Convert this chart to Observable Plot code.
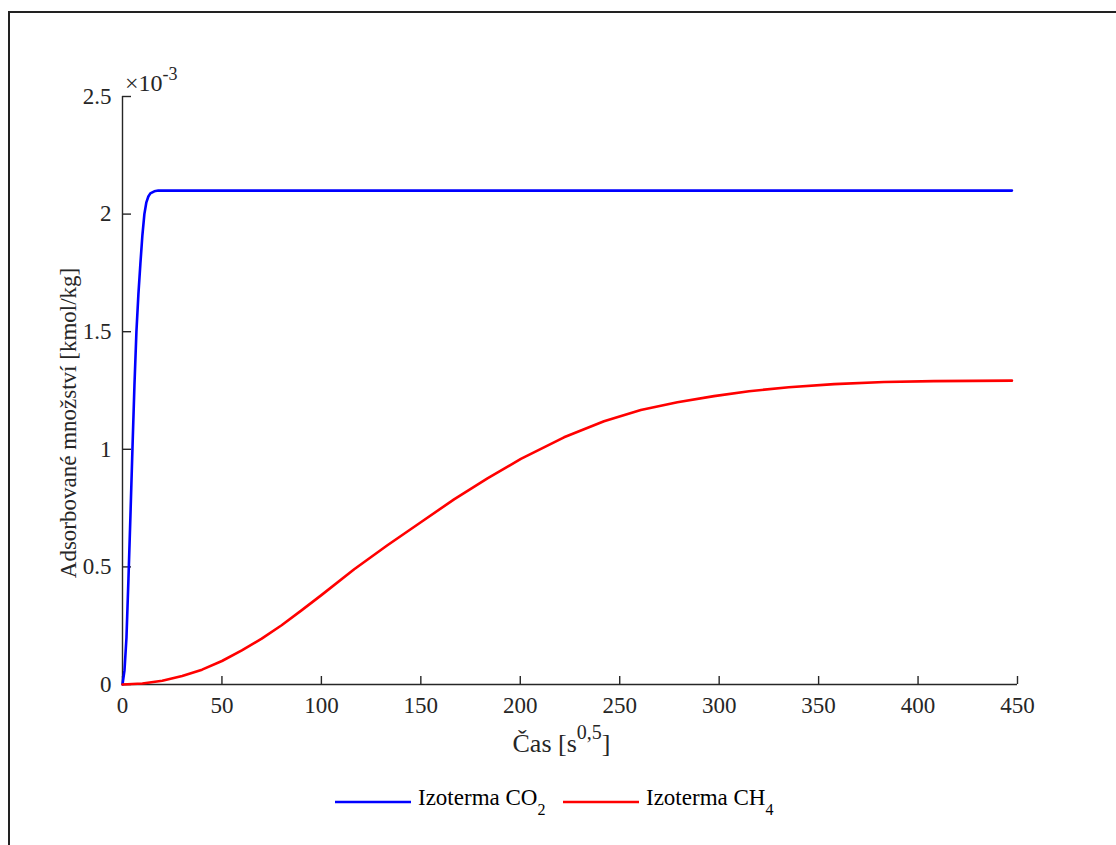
<!DOCTYPE html>
<html>
<head>
<meta charset="utf-8">
<script src="https://cdn.jsdelivr.net/npm/d3@7"></script>
<script src="https://cdn.jsdelivr.net/npm/@observablehq/plot@0.6"></script>
<style>
  body { margin: 0; background: #fff; }
  #fig { position: relative; width: 1116px; height: 845px; overflow: hidden; font-family: "Liberation Serif", serif; }
  #frame { position: absolute; left: 8px; top: 11px; width: 1200px; height: 1000px; border: 2px solid #222; box-sizing: border-box; }
  #plot { position: absolute; left: 0; top: 0; }
  #legend { position: absolute; left: 0; top: 770px; }
</style>
</head>
<body>
<div id="fig">
  <div id="frame"></div>
  <div id="plot"></div>
  <div id="legend"></div>
</div>
<script>
// Time axis [s^0.5] and adsorbed amount [kmol/kg ×10^-3]
const co2Time  = [0, 1, 2, 3, 4, 5, 6, 7, 8, 9, 10, 11, 12, 13, 14, 16, 18, 447.2];
const co2Value = [0, 0.06, 0.2, 0.45, 0.72, 1.0, 1.27, 1.5, 1.66, 1.79, 1.91, 2.0, 2.05, 2.075, 2.088, 2.097, 2.1, 2.1];

const ch4Time  = [0, 10, 20, 30, 40, 50, 60, 70, 80, 90, 100, 116.5, 133.2, 150, 166.7, 183.5, 200.3, 222, 242.1, 260.6, 279, 297.4, 315, 335, 357.8, 382.9, 408, 447.2];
const ch4Value = [0, 0.004, 0.016, 0.036, 0.063, 0.1, 0.145, 0.195, 0.252, 0.315, 0.38, 0.49, 0.592, 0.69, 0.787, 0.876, 0.959, 1.051, 1.119, 1.167, 1.2, 1.226, 1.247, 1.264, 1.277, 1.286, 1.29, 1.292];

const xTicks = [0, 50, 100, 150, 200, 250, 300, 350, 400, 450];
const yTicks = [0, 0.5, 1, 1.5, 2, 2.5];

const seriesNames = ["Izoterma CO", "Izoterma CH"];
const seriesSubs = ["2", "4"];
const seriesColors = ["#0000ff", "#ff0000"];

const co2 = co2Time.map((t, i) => ({t, v: co2Value[i]}));
const ch4 = ch4Time.map((t, i) => ({t, v: ch4Value[i]}));

const W = 1116, H = 770;
const mL = 122, mR = 99, mT = 96, mB = 86;
const plotW = W - mL - mR, plotH = H - mT - mB;
const axisColor = "#262626";
const font = "Liberation Serif";

const chart = Plot.plot({
  width: W, height: H,
  marginLeft: mL, marginRight: mR, marginTop: mT, marginBottom: mB,
  style: {fontFamily: font, fontSize: "23px", color: axisColor, background: "transparent", overflow: "visible"},
  x: {domain: [0, 450]},
  y: {domain: [0, 2.5]},
  marks: [
    Plot.axisX(xTicks, {tickSize: 0, tickPadding: 12, tickFormat: d => String(d), label: null, fill: axisColor}),
    Plot.axisY(yTicks, {tickSize: 0, tickPadding: 11, tickFormat: d => String(d), label: null, fill: axisColor}),
    // inward-pointing ticks
    Plot.tickX(xTicks, {x: d => d, stroke: axisColor, strokeWidth: 1.4, insetTop: plotH - 8}),
    Plot.tickY(yTicks, {y: d => d, stroke: axisColor, strokeWidth: 1.4, insetRight: plotW - 9}),
    Plot.ruleX([0], {stroke: axisColor, strokeWidth: 1.4}),
    Plot.ruleY([0], {stroke: axisColor, strokeWidth: 1.4}),
    Plot.line(co2, {x: "t", y: "v", stroke: seriesColors[0], strokeWidth: 2.6}),
    Plot.line(ch4, {x: "t", y: "v", stroke: seriesColors[1], strokeWidth: 2.6})
  ]
});

document.getElementById("plot").appendChild(chart);

const sx = chart.scale("x"), sy = chart.scale("y");
const svg = d3.select(chart);
const x0 = sx.apply(0), x1 = sx.apply(450);
const y0 = sy.apply(0), y1 = sy.apply(2.5);

// exponent multiplier above the y axis
const mult = svg.append("text")
  .attr("x", x0 + 3).attr("y", y1 - 5)
  .attr("text-anchor", "start")
  .attr("font-family", font).attr("font-size", 24).attr("fill", axisColor);
mult.append("tspan").text("×10");
mult.append("tspan").attr("dy", -11).attr("font-size", 18).text("-3");

// x axis label
const xl = svg.append("text")
  .attr("x", (x0 + x1) / 2 - 8).attr("y", y0 + 68)
  .attr("text-anchor", "middle")
  .attr("font-family", font).attr("font-size", 26).attr("fill", axisColor);
xl.append("tspan").text("Čas [s");
xl.append("tspan").attr("dy", -13).attr("font-size", 20).text("0,5");
xl.append("tspan").attr("dy", 13).text("]");

// y axis label
svg.append("text")
  .attr("transform", `translate(${x0 - 46},${(y0 + y1) / 2 + 33}) rotate(-90)`)
  .attr("text-anchor", "middle")
  .attr("font-family", font).attr("font-size", 23).attr("fill", axisColor)
  .text("Adsorbované množství [kmol/kg]");

// legend below the chart
const lg = d3.select("#legend").append("svg")
  .attr("width", W).attr("height", 75);
const swatchX = [335, 563];
seriesNames.forEach((name, i) => {
  const sx0 = swatchX[i];
  lg.append("line")
    .attr("x1", sx0).attr("x2", sx0 + 76)
    .attr("y1", 32).attr("y2", 32)
    .attr("stroke", seriesColors[i]).attr("stroke-width", 2.6);
  const t = lg.append("text")
    .attr("x", sx0 + 83).attr("y", 35)
    .attr("font-family", font).attr("font-size", 23).attr("fill", "#000");
  t.append("tspan").text(name);
  t.append("tspan").attr("dy", 10).attr("font-size", 16).text(seriesSubs[i]);
});
</script>
</body>
</html>
